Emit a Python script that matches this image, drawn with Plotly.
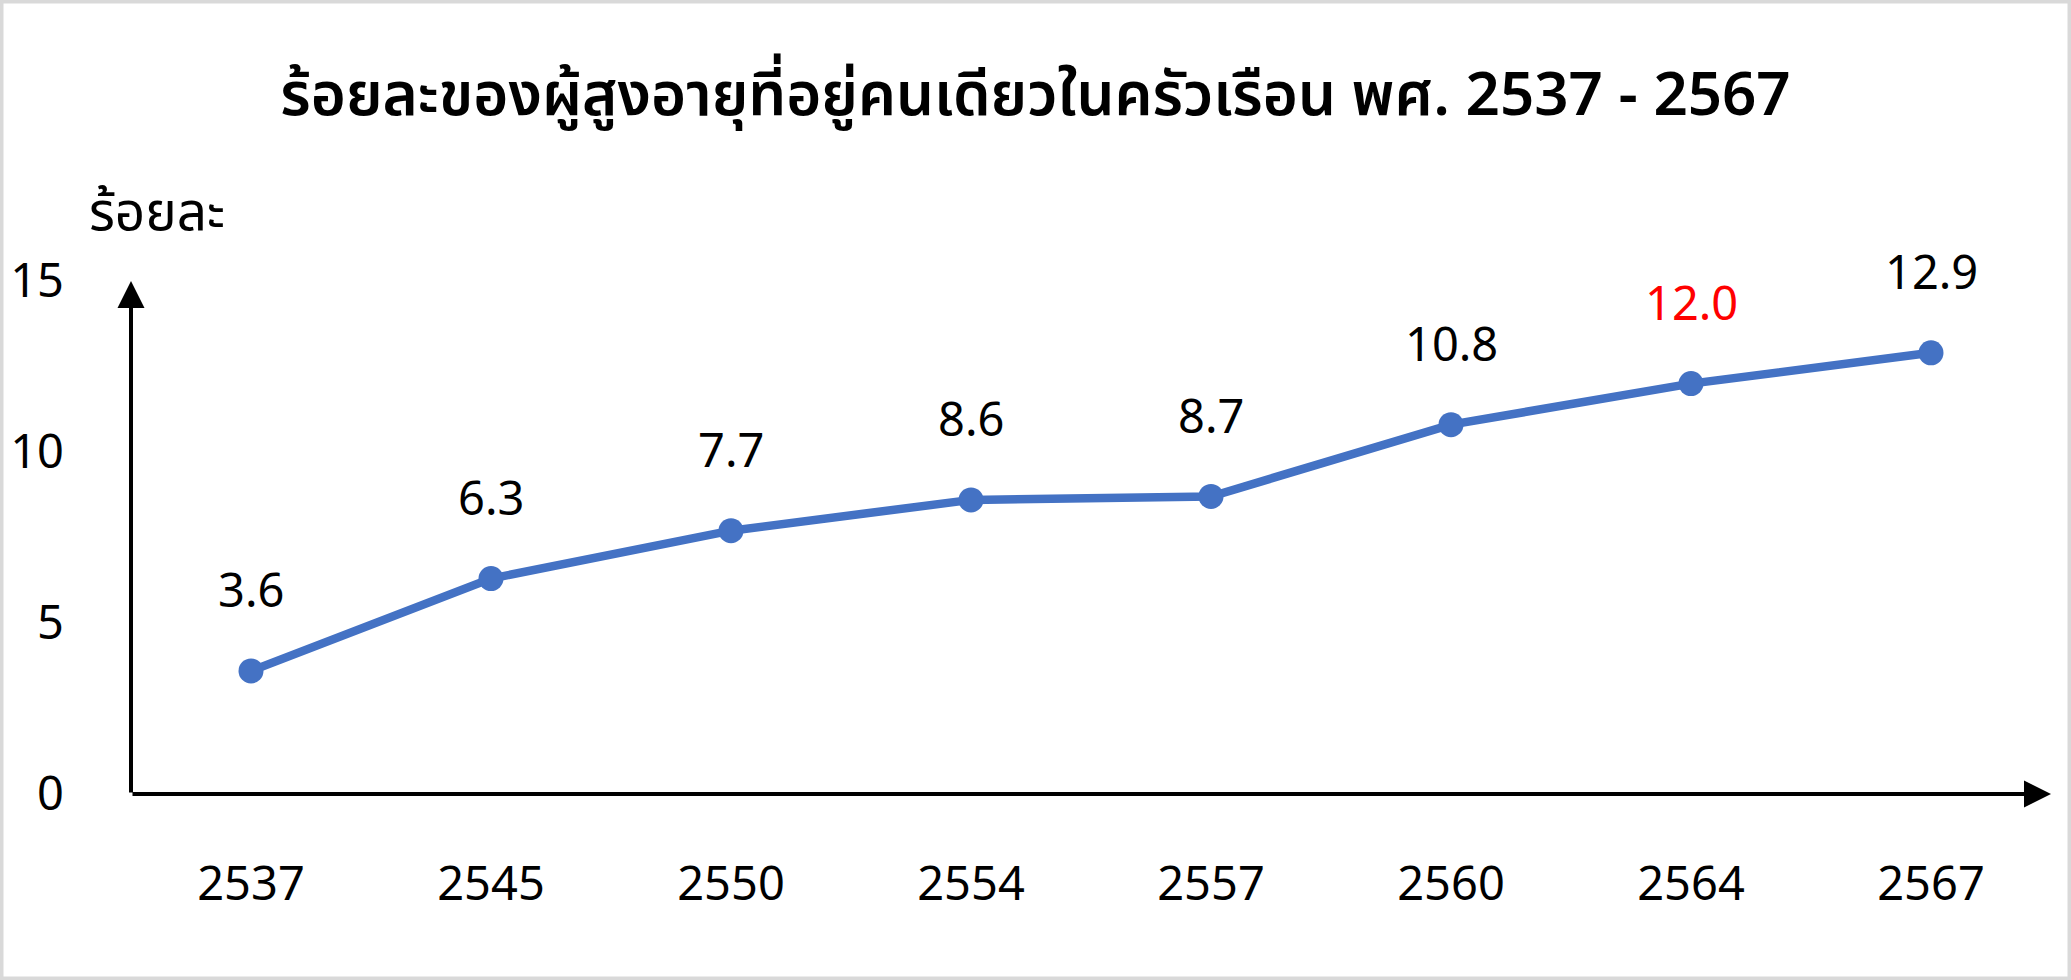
import plotly.graph_objects as go

years = ["2537", "2545", "2550", "2554", "2557", "2560", "2564", "2567"]
values = [3.6, 6.3, 7.7, 8.6, 8.7, 10.8, 12.0, 12.9]
label_colors = ["black", "black", "black", "black", "black", "black", "#FF0000", "black"]
y_ticks = [0, 5, 10, 15]

title_text = "ร้อยละของผู้สูงอายุที่อยู่คนเดียวในครัวเรือน พศ. 2537 - 2567"
y_title = "ร้อยละ"

FONT = "Noto Sans Thai, Noto Sans, Leelawadee UI, sans-serif"
W, H = 2071, 980
ML, MR, MT, MB = 131, 20, 281, 186
PW, PH = W - ML - MR, H - MT - MB

def px2x(px):
    return (px - ML) / PW

def py2y(py):
    return (H - MB - py) / PH

fig = go.Figure()
fig.add_trace(go.Scatter(
    x=years, y=values, mode="lines+markers",
    line=dict(color="#4472C4", width=8.5),
    marker=dict(color="#4472C4", size=25),
    hoverinfo="skip", showlegend=False, cliponaxis=False,
))

annotations = []
for i, (v, c) in enumerate(zip(values, label_colors)):
    annotations.append(dict(
        x=i, y=v, xref="x", yref="y", text=f"{v:.1f}", showarrow=False,
        xanchor="center", yanchor="middle",
        yshift=78, font=dict(size=47, color=c, family=FONT),
    ))

n = len(years)
# axis arrows
annotations.append(dict(
    x=n - 0.5, y=0, ax=-0.5, ay=0, xref="x", yref="y", axref="x", ayref="y",
    text="", showarrow=True, arrowhead=2, arrowsize=1.35, arrowwidth=4,
    arrowcolor="black", standoff=0, startstandoff=0,
))
annotations.append(dict(
    x=-0.5, y=y_ticks[-1], ax=-0.5, ay=0, xref="x", yref="y", axref="x", ayref="y",
    text="", showarrow=True, arrowhead=2, arrowsize=1.35, arrowwidth=4,
    arrowcolor="black", standoff=0, startstandoff=0,
))

# y axis title
annotations.append(dict(
    x=px2x(157), y=py2y(214), xref="paper", yref="paper",
    text=y_title, showarrow=False, xanchor="center", yanchor="middle",
    font=dict(size=53, color="black", family=FONT),
))

fig.update_layout(
    width=W, height=H,
    margin=dict(l=ML, r=MR, t=MT, b=MB, pad=0, autoexpand=False),
    paper_bgcolor="white", plot_bgcolor="white",
    font=dict(family=FONT, color="black", size=47),
    title=dict(
        text=title_text, x=0.5, xanchor="center", xref="container",
        y=1 - 94 / H, yanchor="middle", yref="container",
        font=dict(size=60, color="black", family=FONT, weight=600),
        automargin=False,
    ),
    xaxis=dict(
        type="category", categoryorder="array", categoryarray=years,
        range=[-0.5, n - 0.5], showgrid=False, zeroline=False, showline=False,
        ticks="", tickfont=dict(size=47), ticklabelstandoff=58, automargin=False,
    ),
    yaxis=dict(
        range=[0, y_ticks[-1]], tickvals=y_ticks, ticktext=[str(t) for t in y_ticks],
        showgrid=False, zeroline=False, showline=False, ticks="",
        tickfont=dict(size=47), ticklabelstandoff=66, automargin=False,
    ),
    annotations=annotations,
    shapes=[dict(
        type="rect", xref="paper", yref="paper",
        x0=px2x(1.75), x1=px2x(W - 1.75), y0=py2y(H - 1.75), y1=py2y(1.75),
        line=dict(color="#D9D9D9", width=3.5), fillcolor="rgba(0,0,0,0)",
        layer="above",
    )],
)

fig.write_html(
    "out.html",
    config={"displayModeBar": False, "staticPlot": True},
    post_script="document.body.style.margin='0';document.body.style.overflow='hidden';",
)
